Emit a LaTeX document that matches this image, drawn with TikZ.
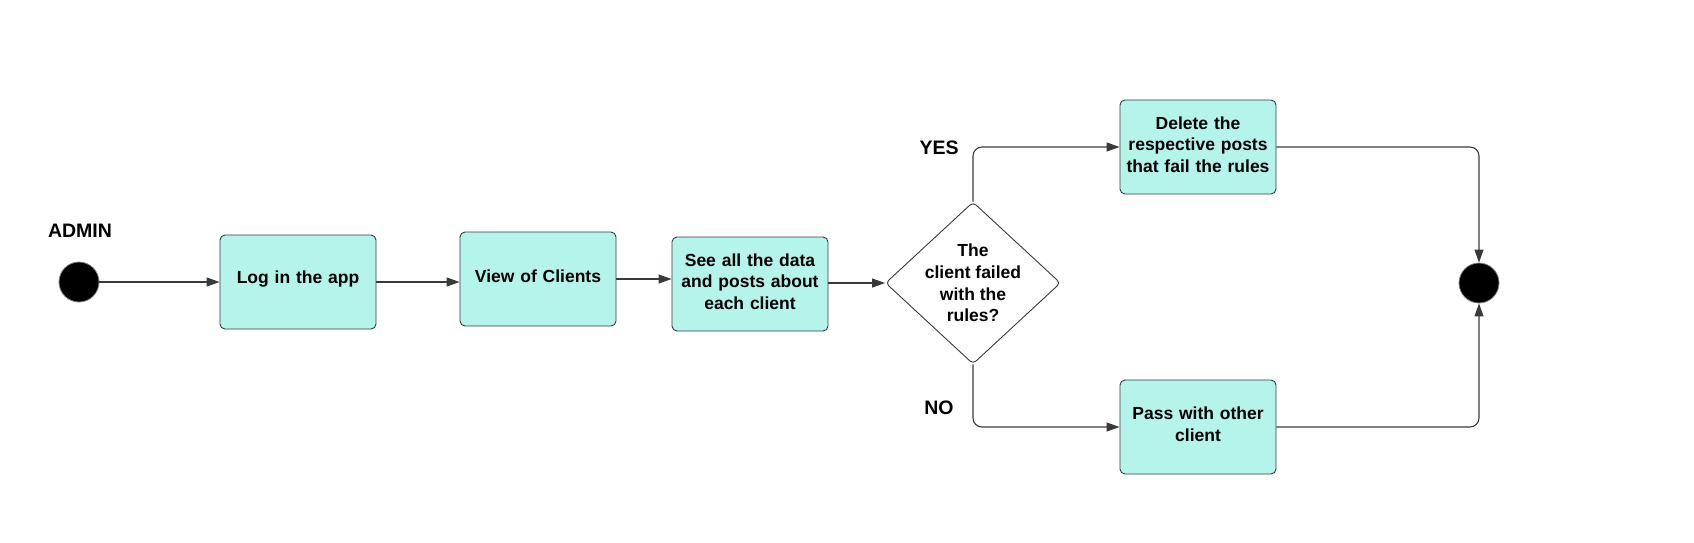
\documentclass[tikz,border=0pt]{standalone}
\usepackage{fontspec}
\setmainfont{Liberation Sans}
\usetikzlibrary{shapes.geometric,arrows.meta}
\definecolor{boxfill}{RGB}{181,244,234}
\definecolor{edgecol}{RGB}{58,58,58}
\begin{document}
\begin{tikzpicture}[x=1pt,y=-1pt,
  box/.style={draw=edgecol, line width=0.9pt, fill=boxfill, rounded corners=5pt,
    minimum width=156pt, minimum height=94pt, text width=152pt, align=center,
    inner sep=0pt, font=\bfseries\fontsize{17.5}{21.6}\selectfont,
    execute at end node={\endgraf\vspace*{5pt}}},
  decision/.style={diamond, draw=edgecol, line width=0.9pt, fill=white, rounded corners=4pt,
    minimum width=175pt, minimum height=162pt, inner sep=0pt},
  dtext/.style={align=center, inner sep=0pt, font=\bfseries\fontsize{17.5}{21.6}\selectfont},
  dot/.style={circle, fill=black, draw=gray, line width=0.8pt, minimum size=40pt, inner sep=0pt},
  lbl/.style={inner sep=0pt, font=\bfseries\fontsize{19.5}{22}\selectfont},
  arr/.style={draw=edgecol, line width=1.1pt, -{Triangle[length=13pt,width=9pt]}}
]
\useasboundingbox (0,0) rectangle (1694,542);
\node[dot] (start) at (79,282) {};
\node[lbl] (admin) at (80,231) {ADMIN};
\node[box] (login) at (298,282) {Log in the app};
\node[box] (view) at (538,279) {View of Clients};
\node[box] (see) at (750,284) {See all the data\\and posts about\\each client};
\node[decision] (dec) at (973,283) {};
\node[dtext] (dect) at (973,283) {The\\client failed\\with the\\rules?};
\node[box] (del) at (1198,147) {Delete the\\respective posts\\that fail the rules};
\node[box] (pass) at (1198,427) {Pass with other\\client};
\node[dot] (end) at (1479,283) {};
\node[lbl] (yes) at (939,148) {YES};
\node[lbl] (no) at (939,408) {NO};

\draw[arr] (start) -- (login.west |- start);
\draw[arr] (login.east) -- (login.east -| view.west);
\draw[arr] (view.east) -- (view.east -| see.west);
\draw[arr] (see.east |- dec) -- (dec.west);
\draw[arr, rounded corners=9pt] (dec.north) |- (del.west);
\draw[arr, rounded corners=9pt] (dec.south) |- (pass.west);
\draw[arr, rounded corners=9pt] (del.east) -| (end.north);
\draw[arr, rounded corners=9pt] (pass.east) -| (end.south);
\end{tikzpicture}
\end{document}
